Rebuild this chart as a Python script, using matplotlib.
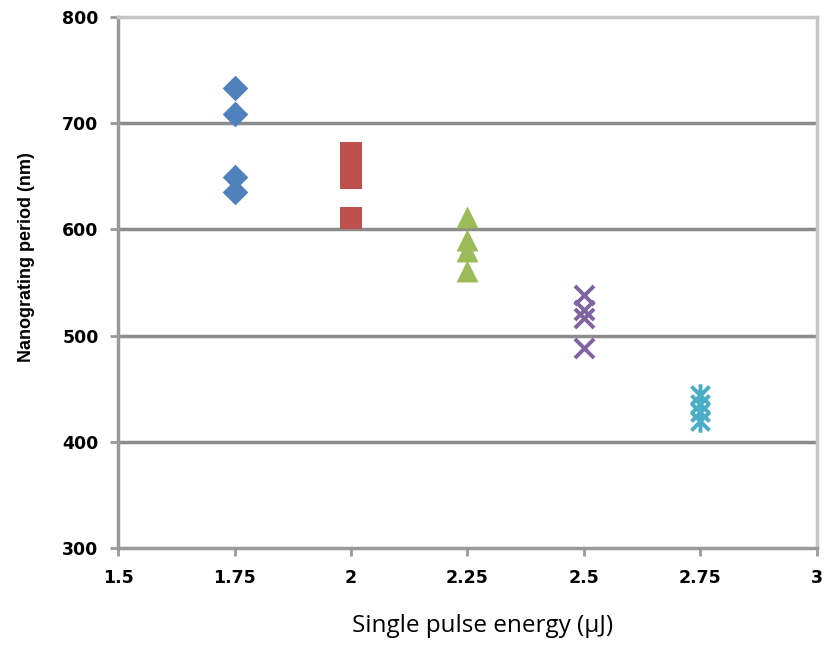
import matplotlib.pyplot as plt
from matplotlib.path import Path

# Nanograting period vs single pulse energy
energy = [1.75, 2.0, 2.25, 2.5, 2.75]
period_175 = [733, 709, 649, 635]
period_200 = [672, 660, 648, 611]
period_225 = [612, 590, 580, 561]
period_250 = [538, 524, 517, 488]
period_275 = [444, 436, 428, 420]

groups = [period_175, period_200, period_225, period_250, period_275]
colors = ['#4F81BD', '#C0504D', '#9BBB59', '#8064A2', '#4BACC6']

# Excel-style star: an x with a vertical bar through it
star = Path([(-0.5, -0.5), (0.5, 0.5), (-0.5, 0.5), (0.5, -0.5), (0, -0.62), (0, 0.62)],
            [Path.MOVETO, Path.LINETO, Path.MOVETO, Path.LINETO, Path.MOVETO, Path.LINETO])
markers = ['D', 's', '^', 'x', star]
sizes = [170, 230, 250, 190, 260]

xticks = [1.5, 1.75, 2, 2.25, 2.5, 2.75, 3]
xticklabels = ['1.5', '1.75', '2', '2.25', '2.5', '2.75', '3']
yticks = [300, 400, 500, 600, 700, 800]

fig = plt.figure(figsize=(8.26, 6.46), dpi=100)
ax = fig.add_axes([0.1429, 0.1517, 0.8460, 0.8220])

for i, (x, ys, c, s) in enumerate(zip(energy, groups, colors, sizes)):
    m = markers[i]
    xs = [x] * len(ys)
    if i < 3:
        ax.scatter(xs, ys, marker=m, s=s, color=c, linewidths=0, zorder=3)
    else:
        ax.scatter(xs, ys, marker=m, s=s, color=c, linewidths=2.8, zorder=3)

ax.set_xlim(1.5, 3)
ax.set_ylim(300, 800)
ax.set_xticks(xticks)
ax.set_xticklabels(xticklabels)
ax.set_yticks(yticks)

for y in [400, 500, 600, 700]:
    ax.axhline(y, color='#8c8c8c', lw=2.5, zorder=1)

for side in ['left', 'bottom']:
    ax.spines[side].set_color('#999999')
    ax.spines[side].set_linewidth(2.5)
for side in ['top', 'right']:
    ax.spines[side].set_color('#c4c4c4')
    ax.spines[side].set_linewidth(2.5)

ax.tick_params(axis='both', direction='out', length=6, width=2, color='#999999',
               labelsize=12.5)
ax.tick_params(axis='y', pad=8)
ax.tick_params(axis='x', pad=9)
for lab in ax.get_xticklabels() + ax.get_yticklabels():
    lab.set_fontweight('bold')
    lab.set_fontfamily('DejaVu Sans')

ax.set_xlabel('Single pulse energy (μJ)', fontsize=17.5, family='Open Sans')
ax.xaxis.set_label_coords(0.522, -0.125)
ax.set_ylabel('Nanograting period (nm)', fontsize=13, fontweight='bold',
              family='Liberation Sans')
ax.yaxis.set_label_coords(-0.119, 0.548)

fig.savefig('out.png', dpi=100)
